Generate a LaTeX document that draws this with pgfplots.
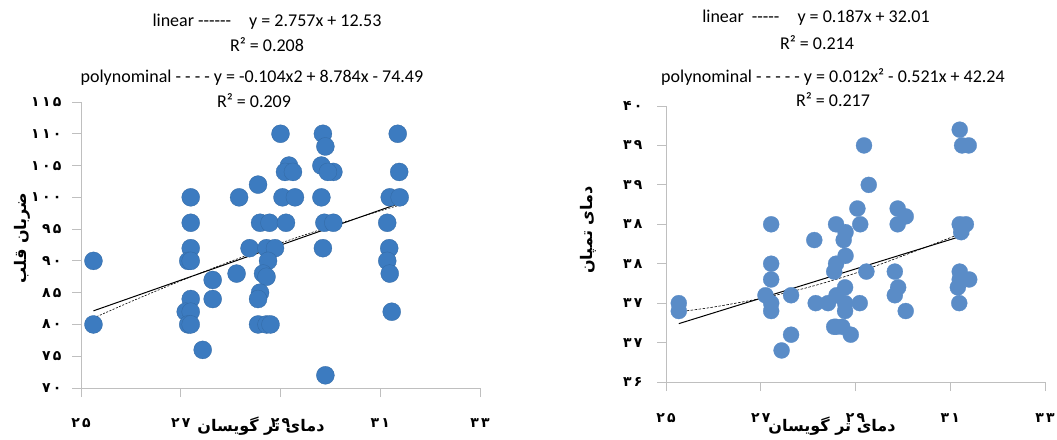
\documentclass[border=0pt]{standalone}
\usepackage{fontspec}
\setmainfont{Carlito}
\newfontfamily\fa[Script=Arabic]{DejaVu Sans}
\newfontfamily\fad{DejaVu Sans}
\TeXXeTstate=1
\usepackage{pgfplots}
\pgfplotsset{compat=1.18}

\definecolor{ptA}{HTML}{3C7BC0}
\definecolor{ptB}{HTML}{5A8CC7}
\definecolor{axgray}{HTML}{BFBFBF}

% persian digits for the ticks
\newcommand{\pd}[1]{{\fad\bfseries #1}}
\newcommand{\dsh}{{-}}

\pgfplotsset{chart/.style={
  scale only axis,
  axis x line*=bottom, axis y line*=left,
  axis line style={axgray, line width=0.8pt, -},
  tick style={axgray, line width=0.8pt},
  tick align=outside,
  major tick length=9pt,
  xmin=25, xmax=33, xtick={25,27,29,31,33},
  xticklabels={\pd{۲\,۵},\pd{۲\,۷},\pd{۲\,۹},\pd{۳\,۱},\pd{۳\,۳}},
  tick label style={font=\fontsize{14}{14}\selectfont},
  xticklabel style={anchor=center},
  clip=false,
  label style={font=\fontsize{16}{16}\selectfont\fa\bfseries},
}}

\begin{document}
\begin{tikzpicture}
\useasboundingbox (0,0) rectangle (1057pt,439pt);

% left: heart rate
\begin{axis}[chart,
  at={(81pt,51pt)}, anchor=south west,
  width=399pt, height=286pt,
  ymin=70, ymax=115, ytick={70,75,...,115},
  yticklabels={\pd{۷\,۰},\pd{۷\,۵},\pd{۸\,۰},\pd{۸\,۵},\pd{۹\,۰},\pd{۹\,۵},\pd{۱\,۰\,۰},\pd{۱\,۰\,۵},\pd{۱\,۱\,۰},\pd{۱\,۱\,۵}},
  xticklabel style={yshift=-26pt},
  yticklabel style={anchor=east, xshift=-7pt},
  xlabel={\beginR دمای تر گویسان\endR},
  xlabel style={at={(axis description cs:0.451,0)}, anchor=center, yshift=-38pt},
  ylabel={\beginR ضربان قلب\endR},
  ylabel style={at={(axis description cs:-0.148,0.524)}, anchor=center},
]
\addplot[only marks, mark=*, mark size=9pt, mark options={fill=ptA, draw=ptA!85!black, line width=0.3pt}] coordinates {
(25.25,90) (25.25,80)
(27.2,100) (27.2,96) (27.2,92) (27.15,90) (27.2,90) (27.64,87) (27.64,84)
(27.2,84) (27.1,82) (27.2,82) (27.15,80) (27.2,80) (27.44,76)
(29.0,110) (29.85,110) (29.9,108) (29.17,105) (29.09,104) (29.25,104)
(29.82,105) (30.06,104) (29.95,104) (28.55,102) (28.17,100) (29.04,100)
(29.29,100) (29.82,100) (28.59,96) (28.78,96) (29.11,96) (29.88,96)
(30.06,96) (28.38,92) (28.72,92) (28.89,92) (29.85,92) (28.75,90)
(28.12,88) (28.65,88) (28.72,87.5) (28.59,85) (28.55,84) (28.55,80)
(28.72,80) (28.8,80) (29.9,72)
(31.35,110) (31.38,104) (31.19,100) (31.39,100) (31.14,96) (31.18,92)
(31.14,90) (31.19,88) (31.23,82)
};
% linear fit
\addplot[black, line width=1pt, no marks] coordinates {(25.25,82.14) (31.4,99.10)};
% polynomial fit
\addplot[black, line width=0.6pt, dash pattern=on 2pt off 1.5pt, no marks, smooth] coordinates {
(25.25,81.0) (26,83.59) (27,86.86) (28,89.92) (29,92.79) (30,95.43) (31,97.87) (31.4,98.79)
};
\end{axis}

% right: tympanic temperature
\begin{axis}[chart,
  at={(666pt,57pt)}, anchor=south west,
  width=379pt, height=276pt,
  ymin=36, ymax=39.5, ytick={36,36.5,...,39.5},
  yticklabels={\pd{۳\,۶},\pd{۳\,۷},\pd{۳\,۷},\pd{۳\,۸},\pd{۳\,۸},\pd{۳\,۹},\pd{۳\,۹},\pd{۴\,۰}},
  xticklabel style={yshift=-27pt},
  yticklabel style={anchor=east, xshift=-11pt},
  xlabel={\beginR دمای تر گویسان\endR},
  xlabel style={at={(axis description cs:0.438,0)}, anchor=center, yshift=-44pt},
  ylabel={\beginR دمای تمپان\endR},
  ylabel style={at={(axis description cs:-0.206,0.55)}, anchor=center},
]
\addplot[only marks, mark=*, mark size=8pt, mark options={fill=ptB, draw=ptB, line width=0.3pt}] coordinates {
(25.27,37.0) (25.27,36.9)
(27.22,38.0) (27.22,37.5) (27.22,37.3) (27.1,37.1) (27.22,37.0) (27.22,36.9)
(27.64,37.1) (27.64,36.6) (27.44,36.4) (28.13,37.8) (28.16,37.0) (28.42,37.0)
(28.59,38.0) (28.59,37.5) (28.59,36.7)
(31.2,39.2) (31.25,39.0) (31.39,39.0) (29.18,39.0) (29.28,38.5) (29.04,38.2)
(29.89,38.2) (30.06,38.1) (29.89,38.0) (29.1,38.0) (28.79,37.9) (28.75,37.8)
(28.79,37.6) (28.55,37.4) (29.23,37.4) (29.83,37.4) (31.2,37.4) (31.4,37.3)
(31.2,37.3) (31.16,37.2) (29.9,37.2) (29.83,37.1) (31.19,37.0) (28.78,37.2)
(28.6,37.1) (28.78,37.0) (29.09,37.0) (28.78,36.9) (30.06,36.9) (28.55,36.7)
(28.72,36.7) (28.9,36.6) (31.2,38.0) (31.33,38.0) (31.23,37.9)
};
\addplot[black, line width=1pt, no marks] coordinates {(25.27,36.74) (31.4,37.88)};
\addplot[black, line width=0.6pt, dash pattern=on 2.5pt off 1.5pt, no marks, smooth] coordinates {
(25.27,36.89) (26,36.95) (27,37.06) (28,37.2) (29,37.38) (30,37.6) (31,37.83) (31.4,37.93)
};
\end{axis}

% trendline captions
\begin{scope}[every node/.style={font=\fontsize{18}{18}\selectfont, inner sep=0pt}]
\node at (267pt,417pt) {linear \dsh\dsh\dsh\dsh\dsh\dsh\quad y = 2.757x + 12.53};
\node at (267pt,394pt) {R² = 0.208};
\node at (252pt,361pt) {polynominal - - - - y = -0.104x2 + 8.784x - 74.49};
\node at (254pt,338pt) {R² = 0.209};
\node at (816pt,421pt) {linear\ \ \dsh\dsh\dsh\dsh\dsh\quad y = 0.187x + 32.01};
\node at (817pt,396pt) {R² = 0.214};
\node at (833pt,362pt) {polynominal - - - - - y = 0.012x² - 0.521x + 42.24};
\node at (833pt,339pt) {R² = 0.217};
\end{scope}
\end{tikzpicture}
\end{document}
